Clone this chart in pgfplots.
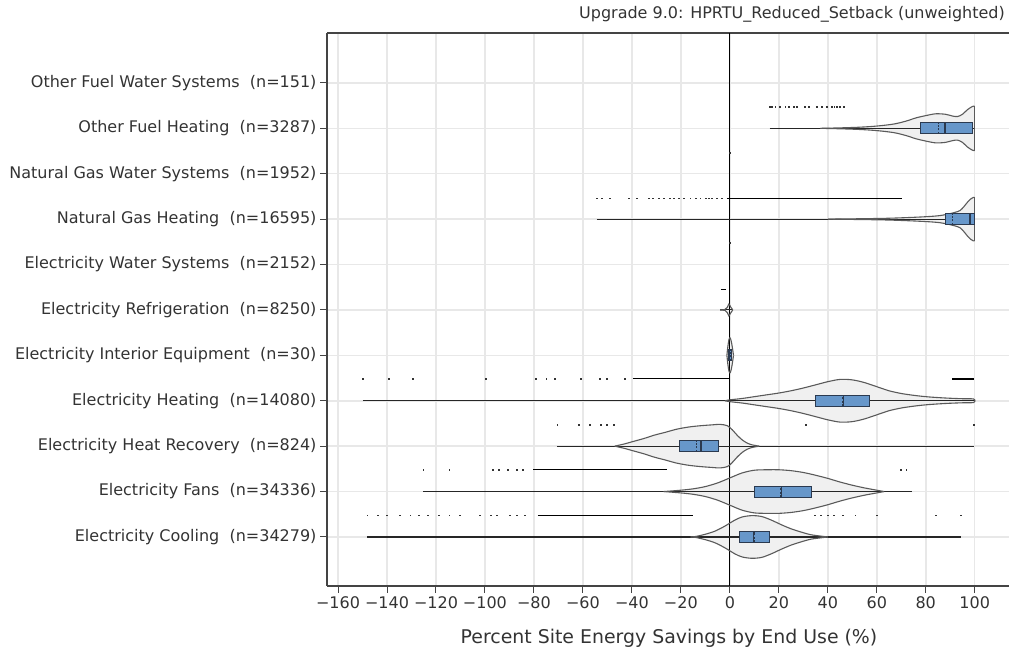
\documentclass[border=0pt]{standalone}
\usepackage{fontspec}
\setmainfont{DejaVu Sans}
\usepackage{pgfplots}
\usepackage{pgfplotstable}
\pgfplotsset{compat=1.18}
\usepgfplotslibrary{fillbetween}

\definecolor{gridc}{HTML}{E8E8E8}
\definecolor{axc}{HTML}{444444}
\definecolor{txt}{HTML}{333333}
\definecolor{vfillc}{HTML}{F0F0F0}
\definecolor{vlinec}{HTML}{5A5A5A}
\definecolor{boxf}{HTML}{6797CA}
\definecolor{boxl}{HTML}{2B3A50}

% violin half-width profiles: x, half width (category units)
\pgfplotstableread{
x w
-16 0
-14 0.01
-10 0.06
-6 0.13
-2 0.24
2 0.37
5 0.44
9 0.47
13 0.45
17 0.37
21 0.27
25 0.18
29 0.11
33 0.05
37 0.02
40 0
}\vCool
\pgfplotstableread{
x w
-27 0
-20 0.03
-15 0.06
-10 0.11
-5 0.19
0 0.30
5 0.41
10 0.47
15 0.48
20 0.48
25 0.46
30 0.42
35 0.36
40 0.29
45 0.21
50 0.14
55 0.08
60 0.03
63 0
}\vFans
\pgfplotstableread{
x w
-47 0
-43 0.05
-39 0.11
-35 0.17
-31 0.24
-26 0.31
-22 0.37
-17 0.42
-12 0.45
-7 0.47
-4 0.48
-1 0.45
1 0.36
3 0.24
5 0.14
7 0.07
9 0.03
12 0
}\vHR
\pgfplotstableread{
x w
-2 0
0 0.02
5 0.05
10 0.09
15 0.13
20 0.17
25 0.22
30 0.28
35 0.35
40 0.42
45 0.47
50 0.46
55 0.40
60 0.31
65 0.22
70 0.16
75 0.12
80 0.09
85 0.07
90 0.055
95 0.045
99.5 0.04
100 0
}\vEH
\pgfplotstableread{
x w
-1.2 0
-0.8 0.2
-0.3 0.36
0.2 0.38
0.8 0.25
1.5 0
}\vIE
\pgfplotstableread{
x w
-4 0
-2 0.01
-1 0.06
-0.4 0.13
0.3 0.07
1.2 0
}\vRef
\pgfplotstableread{
x w
40 0
55 0.01
65 0.02
75 0.04
82 0.06
86 0.08
89 0.11
92 0.15
94 0.19
95.5 0.27
97 0.37
98.5 0.45
99.5 0.48
100 0.48
}\vNGH
\pgfplotstableread{
x w
37 0
45 0.01
53 0.025
60 0.05
67 0.095
72 0.16
76 0.23
80 0.28
84 0.32
88 0.31
91 0.27
93 0.26
95 0.31
97 0.41
99 0.48
100 0.49
}\vOFH

\newcommand{\violin}[3]{%
  \addplot[vlinec, line width=1.1pt, smooth, tension=0.5, name path=#3u] table[x=x, y expr=#2+\thisrow{w}] {#1};
  \addplot[vlinec, line width=1.1pt, smooth, tension=0.5, name path=#3l] table[x=x, y expr=#2-\thisrow{w}] {#1};
  \addplot[vfillc] fill between[of=#3u and #3l];
}
\newcommand{\bx}[5]{% center, q1, q3, median, mean
  \addplot[boxl, line width=1pt, fill=boxf] coordinates {(#2,#1-0.12) (#3,#1-0.12) (#3,#1+0.12) (#2,#1+0.12)} -- cycle;
  \addplot[boxl, line width=1.2pt] coordinates {(#4,#1-0.12) (#4,#1+0.12)};
  \addplot[boxl, line width=1pt, dashed, dash pattern=on 2pt off 1.5pt] coordinates {(#5,#1-0.12) (#5,#1+0.12)};
}

\begin{document}
\begin{tikzpicture}
\begin{axis}[
  at={(327pt,69pt)}, anchor=south west,
  width=682pt, height=553pt, scale only axis,
  xmin=-164.5, xmax=114, ymin=-1.08, ymax=11.1,
  axis x line*=box, axis y line*=left,
  axis line style={axc, line width=1.2pt},
  xtick={-160,-140,...,100},
  xticklabels={−160,−140,−120,−100,−80,−60,−40,−20,0,20,40,60,80,100},
  ytick={0,...,10},
  yticklabels={
    Electricity Cooling\ \ (n=34279),
    Electricity Fans\ \ (n=34336),
    Electricity Heat Recovery\ \ (n=824),
    Electricity Heating\ \ (n=14080),
    Electricity Interior Equipment\ \ (n=30),
    Electricity Refrigeration\ \ (n=8250),
    Electricity Water Systems\ \ (n=2152),
    Natural Gas Heating\ \ (n=16595),
    Natural Gas Water Systems\ \ (n=1952),
    Other Fuel Heating\ \ (n=3287),
    Other Fuel Water Systems\ \ (n=151)},
  xtick pos=bottom, ytick pos=left,
  tick align=outside,
  major tick length=7pt,
  tick style={axc, line width=1pt},
  grid=major,
  major grid style={gridc, line width=1.5pt},
  ticklabel style={font=\fontsize{16}{19}\selectfont, text=txt},
]
% outliers
\addplot[only marks, mark=square*, mark size=0.42pt, black!80] coordinates {
 (-148.1,0.48) (-143.7,0.48) (-140.2,0.48) (-134.9,0.48) (-130.5,0.48) (-127,0.48) (-123.4,0.48) (-119,0.48)
 (-114.6,0.48) (-110.2,0.48) (-102.2,0.48) (-97.8,0.48) (-95.2,0.48) (-89.9,0.48) (-87.2,0.48) (-83.7,0.48)
 (34.5,0.48) (37,0.48) (40,0.48) (42.5,0.48) (46,0.48) (51.2,0.48) (60,0.48) (83.9,0.48) (94.4,0.48)
 (-125.2,1.48) (-114.6,1.48) (-97,1.48) (-94.5,1.48) (-90.8,1.48) (-87,1.48) (-84.5,1.48) (69.7,1.48) (72,1.48)
 (-70.5,2.48) (-61.7,2.48) (-57.3,2.48) (-52.9,2.48) (-50.2,2.48) (-47.5,2.48) (31,2.48) (99.7,2.48)
 (-149.9,3.48) (-139.3,3.48) (-129.6,3.48) (-99.6,3.48) (-79.3,3.48) (-75,3.48) (-71.4,3.48) (-60.8,3.48) (-53,3.48) (-50.2,3.48) (-43.1,3.48)
 (0,6.48) (0,8.46)
 (-54.3,7.46) (-52.3,7.46) (-49.1,7.46) (-41.4,7.46) (-38,7.46) (-33.2,7.46) (-31.5,7.46) (-29.1,7.46) (-27,7.46)
 (-24.4,7.46) (-23,7.46) (-21,7.46) (-19,7.46) (-16.2,7.46) (-14,7.46) (-12.1,7.46) (-10,7.46) (-8.6,7.46) (-7.4,7.46) (-5.3,7.46) (-3.3,7.46)
 (16.2,9.48) (17.2,9.48) (18.5,9.48) (20.5,9.48) (22.6,9.48) (24,9.48) (26,9.48) (27.3,9.48) (30.7,9.48) (32.1,9.48)
 (35.5,9.48) (37.5,9.48) (39.6,9.48) (41.6,9.48) (42.6,9.48) (43.7,9.48) (45,9.48) (46.4,9.48)
};
\addplot[black, line width=1pt] coordinates {(-78.4,0.48) (-15,0.48)};
\addplot[black, line width=1pt] coordinates {(-80.2,1.48) (-25.5,1.48)};
\addplot[black, line width=1pt] coordinates {(-39.6,3.48) (0,3.48)};
\addplot[black, line width=1.2pt] coordinates {(90.9,3.48) (99.7,3.48)};
\addplot[black, line width=1pt] coordinates {(-3.7,5.46) (-1.5,5.46)};
\addplot[black, line width=1pt] coordinates {(-1.2,7.46) (70.2,7.46)};
% zero line
\addplot[black, line width=0.8pt] coordinates {(0,-1.08) (0,11.1)};
% tails (min-max lines)
\addplot[black!85, line width=1.1pt] coordinates {(-148.1,0) (94.4,0)};
\addplot[black!85, line width=1.1pt] coordinates {(-125.2,1) (74.2,1)};
\addplot[black!85, line width=1.1pt] coordinates {(-70.5,2) (99.7,2)};
\addplot[black!85, line width=1.1pt] coordinates {(-149.9,3) (100,3)};
\addplot[black!85, line width=1.1pt] coordinates {(-4,5) (1.2,5)};
\addplot[black!85, line width=1.1pt] coordinates {(-54.3,7) (100,7)};
\addplot[black!85, line width=1.1pt] coordinates {(16.2,9) (100,9)};
\addplot[black, line width=1.2pt] coordinates {(0,5.95) (0,6.05)};
\addplot[black, line width=1.2pt] coordinates {(0,7.95) (0,8.05)};
% violins
\violin{\vCool}{0}{vc}
\violin{\vFans}{1}{vf}
\violin{\vHR}{2}{vhr}
\violin{\vEH}{3}{veh}
\violin{\vIE}{4}{vie}
\violin{\vRef}{5}{vre}
\violin{\vNGH}{7}{vng}
\violin{\vOFH}{9}{vof}
\addplot[vlinec, line width=1.1pt] coordinates {(100,6.52) (100,7.48)};
\addplot[vlinec, line width=1.1pt] coordinates {(100,8.51) (100,9.49)};
% boxes
\bx{0}{4.1}{16.3}{9.7}{10.2}
\bx{1}{9.9}{33.5}{21.2}{20.7}
\bx{2}{-20.5}{-4.5}{-11.8}{-13.5}
\bx{3}{34.8}{56.9}{46.3}{46.0}
\bx{4}{-0.6}{0.7}{0}{0.1}
\bx{7}{88.2}{100}{98.1}{90.9}
\bx{9}{77.8}{99.1}{87.9}{85.2}
\end{axis}
\node[anchor=base east, inner sep=0pt, font=\fontsize{16}{19}\selectfont, text=txt] at (1005pt,636pt) {Upgrade 9.0: HPRTU\_Reduced\_Setback (unweighted)};
\node[anchor=base, inner sep=0pt, font=\fontsize{18.9}{22}\selectfont, text=txt] at (669pt,11pt) {Percent Site Energy Savings by End Use (\%)};
\pgfresetboundingbox
\path[use as bounding box] (0,0) rectangle (1009pt,655pt);
\end{tikzpicture}
\end{document}
